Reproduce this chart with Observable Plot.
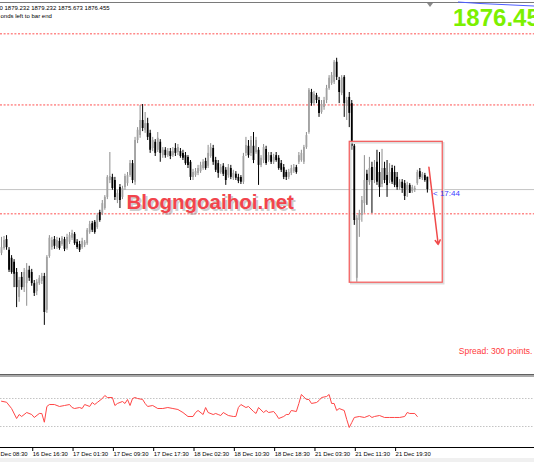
<!DOCTYPE html>
<html><head><meta charset="utf-8">
<script src="https://cdn.jsdelivr.net/npm/d3@7"></script>
<script src="https://cdn.jsdelivr.net/npm/@observablehq/plot@0.6"></script>
<style>
html,body{margin:0;padding:0;background:#fff;}
#wrap{position:relative;width:534px;height:462px;overflow:hidden;background:#fff;font-family:"Liberation Sans",Arial,sans-serif;}
#main{position:absolute;left:0;top:0;}
#ind{position:absolute;left:0;top:374px;}
.chrome{position:absolute;left:0;width:534px;}
</style></head><body>
<div id="wrap">
  <div id="main"></div>
  <div id="ind"></div>
  <div class="chrome" style="top:2px;height:1px;background:#7a7a7a"></div>
  <div class="chrome" style="top:374px;height:1px;background:#606060"></div>
  <div class="chrome" style="top:375px;height:2px;background:#aaaaaa"></div>
  <div class="chrome" style="top:458px;height:4px;background:#f0f0f0"></div>
  <div style="position:absolute;left:427px;top:3px;width:0;height:0;border-left:3px solid transparent;border-right:3px solid transparent;border-top:4px solid #8a8a8a"></div>
  <svg style="position:absolute;left:0;top:0" width="534" height="10"><polyline points="458,2 480,3.5 534,6" fill="none" stroke="#4b5cff" stroke-width="1"/></svg>
</div>
<script>
// XAUUSD M30 candles (index = bar number), prices
const opens = [
1862.1,1863.2,1865.2,1862.8,1861.0,1860.1,1857.8,1852.2,1856.7,1854.4,
1855.3,1858.3,1857.8,1855.3,1853.5,1855.3,1855.8,1856.9,1849.3,1861.4,
1863.4,1865.2,1863.4,1864.8,1864.1,1865.2,1863.2,1864.6,1865.5,1866.4,
1864.6,1864.1,1863.4,1863.9,1864.3,1866.8,1868.8,1869.1,1867.9,1871.3,
1871.1,1872.2,1874.7,1878.5,1879.2,1878.5,1874.0,1876.9,1874.7,1876.9,
1877.8,1879.6,1882.3,1878.1,1887.5,1888.6,1892.0,1889.8,1891.3,1889.1,
1885.7,1887.1,1885.3,1887.1,1884.1,1885.3,1884.1,1885.0,1884.1,1885.7,
1884.8,1885.0,1884.6,1884.1,1883.7,1882.6,1879.2,1879.6,1880.1,1880.5,
1881.2,1882.8,1881.7,1883.9,1885.7,1883.0,1882.3,1880.3,1881.7,1880.8,
1879.6,1881.2,1879.0,1879.9,1879.2,1879.2,1878.1,1884.6,1886.2,1884.6,
1886.2,1884.8,1885.3,1881.9,1883.0,1885.5,1883.0,1884.1,1882.6,1884.1,
1883.5,1882.3,1881.4,1880.3,1879.2,1880.1,1880.5,1881.4,1882.6,1883.0,
1882.6,1885.9,1889.3,1898.3,1895.8,1897.6,1896.5,1893.8,1894.9,1896.5,
1899.2,1900.3,1900.6,1905.1,1901.0,1898.1,1901.7,1895.2,1897.2,1895.8,
1886.2,1856.5,1869.5,1870.6,1873.3,1879.9,1878.1,1881.4,1878.5,1882.6,
1880.3,1877.6,1881.2,1879.6,1878.5,1881.2,1880.3,1879.2,1876.9,1878.1,
1877.8,1876.3,1877.4,1876.0,1876.3,1877.8,1880.5,1879.0,1879.6,1879.232];
const highs = [
1865.7,1865.9,1866.1,1863.4,1861.6,1860.7,1858.7,1856.7,1857.8,1858.7,
1859.8,1859.2,1858.5,1856.0,1856.2,1857.1,1857.6,1857.6,1861.6,1866.1,
1865.7,1865.9,1865.7,1865.5,1865.9,1865.7,1866.4,1866.8,1867.3,1866.8,
1865.2,1864.8,1865.5,1865.0,1867.7,1869.3,1869.3,1869.5,1871.1,1871.8,
1874.0,1875.1,1879.6,1884.8,1879.9,1879.2,1876.3,1877.6,1877.2,1879.9,
1880.3,1883.0,1883.0,1888.2,1890.4,1895.4,1895.6,1893.8,1892.5,1889.8,
1888.2,1887.7,1889.3,1887.7,1885.9,1885.9,1885.7,1885.7,1885.9,1886.8,
1886.6,1885.7,1885.3,1884.8,1884.1,1883.0,1881.0,1881.2,1881.9,1882.6,
1883.2,1883.5,1886.4,1886.8,1886.4,1883.7,1883.0,1882.1,1882.3,1881.4,
1882.1,1881.9,1880.8,1880.5,1879.9,1879.6,1884.6,1888.2,1887.5,1888.4,
1889.3,1888.2,1885.9,1884.1,1886.6,1886.2,1884.8,1884.8,1884.4,1884.8,
1884.1,1883.0,1882.1,1880.8,1881.0,1881.9,1882.1,1881.9,1884.8,1885.3,
1886.4,1889.3,1899.2,1899.0,1898.5,1898.1,1897.2,1896.5,1897.2,1899.9,
1902.1,1902.8,1905.5,1906.0,1901.7,1902.1,1902.1,1897.2,1898.3,1896.5,
1886.6,1870.6,1871.8,1874.9,1884.1,1880.8,1883.7,1882.6,1883.0,1885.3,
1884.8,1885.5,1882.6,1883.0,1882.3,1881.9,1881.7,1880.3,1878.7,1878.7,
1878.5,1878.1,1877.8,1877.4,1877.2,1880.8,1881.2,1880.3,1880.1,1879.232];
const lows = [
1861.6,1862.8,1862.8,1857.8,1857.4,1854.4,1849.9,1851.1,1853.8,1853.3,
1850.2,1855.8,1854.7,1852.4,1852.6,1854.9,1855.1,1845.9,1848.6,1861.0,
1862.8,1863.0,1863.0,1862.8,1863.7,1862.5,1862.8,1864.1,1865.0,1863.9,
1863.0,1862.3,1863.0,1863.4,1863.9,1866.4,1866.8,1866.4,1867.5,1869.1,
1870.6,1871.8,1874.2,1877.8,1876.3,1874.0,1873.3,1872.2,1874.2,1876.3,
1877.2,1879.2,1877.8,1877.4,1886.8,1888.0,1889.5,1889.1,1887.5,1884.6,
1885.0,1883.9,1884.8,1882.6,1883.5,1883.5,1883.7,1883.2,1883.7,1883.9,
1884.1,1883.5,1883.0,1881.9,1881.2,1878.5,1878.5,1879.2,1879.6,1880.1,
1880.8,1880.8,1881.2,1883.5,1881.9,1880.3,1879.0,1879.9,1879.4,1877.4,
1879.0,1878.7,1878.5,1878.5,1877.8,1877.6,1877.6,1883.9,1883.5,1883.9,
1882.3,1884.4,1877.4,1881.4,1882.3,1881.9,1882.6,1882.1,1882.1,1882.6,
1880.8,1880.3,1878.7,1878.5,1878.7,1879.6,1880.1,1879.9,1882.1,1882.6,
1882.1,1885.5,1888.9,1895.2,1895.4,1895.8,1892.7,1893.4,1894.3,1895.8,
1898.8,1899.9,1900.1,1901.0,1895.8,1897.6,1892.7,1892.0,1890.4,1885.3,
1868.4,1855.6,1865.7,1869.1,1871.1,1872.9,1877.4,1871.1,1877.8,1877.4,
1874.7,1876.9,1877.8,1874.7,1877.8,1877.6,1876.9,1876.3,1876.3,1875.6,
1874.0,1874.7,1875.6,1875.6,1875.8,1877.4,1878.7,1878.5,1878.1,1875.673];
const closes = [
1863.4,1865.0,1863.4,1858.3,1857.8,1857.4,1854.4,1856.0,1854.4,1857.8,
1858.3,1856.5,1855.3,1853.1,1855.6,1856.5,1856.9,1848.8,1861.2,1865.5,
1865.0,1863.7,1865.0,1863.2,1865.5,1863.0,1865.7,1866.1,1866.6,1864.3,
1863.4,1862.8,1864.8,1864.6,1867.3,1868.6,1867.3,1866.8,1870.6,1869.5,
1873.3,1874.7,1879.2,1879.4,1876.7,1874.7,1875.6,1874.0,1876.7,1879.4,
1879.6,1882.3,1878.5,1887.5,1889.8,1892.0,1890.2,1891.3,1888.2,1885.3,
1887.5,1884.6,1888.0,1884.6,1885.3,1884.1,1885.0,1883.9,1885.0,1884.6,
1885.9,1883.9,1883.5,1882.3,1881.9,1879.2,1880.3,1880.5,1881.2,1881.9,
1882.6,1881.2,1884.6,1885.9,1882.6,1880.8,1880.1,1881.4,1879.9,1878.5,
1881.4,1879.2,1880.1,1879.0,1878.3,1878.1,1883.9,1886.4,1884.1,1887.5,
1883.0,1887.5,1881.9,1883.5,1885.9,1882.3,1884.1,1882.6,1883.7,1883.0,
1881.2,1880.8,1879.2,1879.2,1880.3,1881.2,1881.4,1880.3,1884.1,1884.6,
1885.9,1888.6,1898.8,1895.8,1897.9,1896.5,1893.6,1895.6,1896.5,1899.2,
1901.5,1902.1,1905.1,1901.7,1898.3,1901.5,1895.8,1896.5,1893.6,1886.2,
1869.5,1870.0,1871.1,1874.0,1878.5,1878.5,1881.2,1878.5,1881.4,1878.1,
1876.9,1881.2,1878.5,1877.4,1880.3,1878.1,1877.4,1876.9,1878.1,1876.7,
1874.9,1877.4,1875.6,1876.9,1876.7,1880.3,1879.2,1879.9,1878.5,1876.455];

// oscillator readings (bar number, value 0-100)
const oscBars = [0,2,4,6,7,8,10,12,13,15,16,17,18,19,21,23,25,27,28,29,31,32,33,35,36,37,38,40,41,42,44,45,46,48,49,50,51,52,53,54,56,57,58,60,62,64,66,68,70,72,74,76,77,78,80,81,82,84,85,86,87,88,90,92,93,94,95,97,98,100,101,102,104,105,106,108,109,110,112,113,114,115,117,118,119,121,122,123,125,126,127,129,130,131,132,133,134,136,137,138,139,140,142,144,146,147,148,150,152,154,156,158,160,161,162,164,165];
const oscValues = [66.1,64.7,55.7,41.4,47.1,44.3,50,47.1,42.9,48.6,48.6,36.1,58.6,61.4,61.4,58.6,60,61.4,57.1,55.7,57.1,55.7,61.4,58.6,64.3,61.4,64.3,70,74.3,71.4,71.4,60,62.9,65.7,62.9,68.6,60,70,71.4,70,68.6,62.9,58.6,60,55.7,55.7,57.1,55.7,54.3,50,44.3,44.3,50,52.9,47.1,57.1,50,47.1,48.6,47.1,45.7,50,45.7,44.3,44.3,57.1,61.4,57.1,58.6,51.4,48.6,57.1,50,52.9,50,51.4,47.1,41.4,44.3,47.1,47.1,52.9,51.4,62.9,75.7,68.6,68.6,62.9,64.3,67.1,71.4,72.9,75.7,62.9,62.9,52.9,55.7,52.9,40,28.6,35.7,42.9,44.3,42.9,45.7,42.9,44.3,45.7,42.9,42.9,42.9,42.9,44.3,50,48.6,48.6,44.3];
const oscLevels = [70, 30];

const tickBars = [-4, 12, 28, 44, 60, 76, 92, 108, 124, 140, 156];
const tickLabels = ["16 Dec 08:30","16 Dec 16:30","17 Dec 01:30","17 Dec 09:30","17 Dec 17:30","18 Dec 02:30","18 Dec 10:30","18 Dec 18:30","21 Dec 03:30","21 Dec 11:30","21 Dec 19:30"];

const levels = [1911.5, 1895.5, 1871.0];
const bid = 1876.455;
const boxBars = [138.2, 175.1];
const boxPrices = [1855.5, 1887.2];
const arrowBars = [169.6, 173.3];
const arrowPrices = [1881.5, 1864.1];
const headerText = "0 1879.232 1879.232 1875.673 1876.455";
const headerText2 = "onds left to bar end";
const bigPrice = "1876.455";
const countdown = "< 17:44";
const spreadText = "Spread: 300 points.";
const watermark = "Blogngoaihoi.net";

const bars = opens.map((o, i) => ({i, o, h: highs[i], l: lows[i], c: closes[i]}));
const up = bars.filter(d => d.c >= d.o);
const dn = bars.filter(d => d.c < d.o);

const xs = {type: "linear", domain: [-1 / 2.52, 533 / 2.52], range: [0, 534], axis: null};
const H = 374;
const font = "'Liberation Sans', Arial, sans-serif";

const main = Plot.plot({
  width: 534, height: H, margin: 0,
  style: {fontFamily: font, background: "#fff", overflow: "hidden"},
  x: xs,
  y: {domain: [1919 - 0.225 * H, 1919], range: [H, 0], axis: null},
  marks: [
    Plot.ruleY(levels, {stroke: "#ff5050", strokeWidth: 1, strokeDasharray: "2,1.6"}),
    Plot.ruleY([bid], {stroke: "#c4c4c4", strokeWidth: 1}),
    Plot.ruleX(up, {x: "i", y1: "l", y2: "h", stroke: "#8e8e8e", strokeWidth: 1}),
    Plot.ruleX(up, {x: "i", y1: "o", y2: "c", stroke: "#a2a2a2", strokeWidth: 1.8}),
    Plot.ruleX(dn, {x: "i", y1: "l", y2: "h", stroke: "#000", strokeWidth: 1}),
    Plot.ruleX(dn, {x: "i", y1: "o", y2: "c", stroke: "#000", strokeWidth: 1.8}),
    Plot.rect([0], {x1: () => boxBars[0], x2: () => boxBars[1], y1: () => boxPrices[0], y2: () => boxPrices[1], fill: "none", stroke: "#dcdcdc", strokeWidth: 1.5, dx: 1.5, dy: 1.5}),
    Plot.rect([0], {x1: () => boxBars[0], x2: () => boxBars[1], y1: () => boxPrices[0], y2: () => boxPrices[1], fill: "none", stroke: "#f26060", strokeWidth: 1.3}),
    Plot.arrow([0], {x1: () => arrowBars[0], y1: () => arrowPrices[0], x2: () => arrowBars[1], y2: () => arrowPrices[1], stroke: "#f04a4a", strokeWidth: 1.5, headLength: 5}),
    Plot.text([watermark], {frameAnchor: "top-left", dx: 128, dy: 210, text: d => d, textAnchor: "start", lineAnchor: "bottom", fontSize: 20.5, fontWeight: "bold", fill: "#909090", fillOpacity: 0.45}),
    Plot.text([watermark], {frameAnchor: "top-left", dx: 126, dy: 208, text: d => d, textAnchor: "start", lineAnchor: "bottom", fontSize: 20.5, fontWeight: "bold", fill: "#f2444c"}),
    Plot.text([countdown], {frameAnchor: "top-left", dx: 432.5, dy: 193.3, text: d => d, textAnchor: "start", lineAnchor: "middle", fontSize: 8, fill: "#3b3bff"}),
    Plot.text([spreadText], {frameAnchor: "top-left", dx: 532, dy: 350.7, text: d => d, textAnchor: "end", lineAnchor: "middle", fontSize: 8.5, fill: "#ff3b3b"}),
    Plot.text([headerText], {frameAnchor: "top-left", dx: -1, dy: 7.4, text: d => d, textAnchor: "start", lineAnchor: "middle", fontSize: 6, fill: "#000"}),
    Plot.text([headerText2], {frameAnchor: "top-left", dx: 0, dy: 15.8, text: d => d, textAnchor: "start", lineAnchor: "middle", fontSize: 6, fill: "#000"}),
    Plot.text([bigPrice], {frameAnchor: "top-left", dx: 452.5, dy: 8.3, text: d => d, textAnchor: "start", lineAnchor: "top", fontSize: 24, fontWeight: "bold", fill: "#7cf000"})
  ]
});
document.getElementById("main").appendChild(main);

const osc = oscBars.map((b, k) => ({b, v: oscValues[k]}));
const ind = Plot.plot({
  width: 534, height: 88, marginTop: 3, marginBottom: 15, marginLeft: 0, marginRight: 0,
  style: {fontFamily: font, fontSize: "5.9px", background: "#fff", overflow: "hidden", color: "#000"},
  x: xs,
  y: {domain: [0, 100], axis: null},
  marks: [
    Plot.ruleY(oscLevels, {stroke: "#c4c4c4", strokeDasharray: "1.5,1.5"}),
    Plot.line(osc, {x: "b", y: "v", stroke: "#ff4646", strokeWidth: 1}),
    Plot.frame({anchor: "bottom", stroke: "#000"}),
    Plot.axisX({ticks: tickBars, tickFormat: d => tickLabels[tickBars.indexOf(d)], tickSize: 4, tickPadding: 0.5, textAnchor: "start", dx: 1, anchor: "bottom", label: null, fontSize: 5.9})
  ]
});
document.getElementById("ind").appendChild(ind);
</script>
</body></html>
